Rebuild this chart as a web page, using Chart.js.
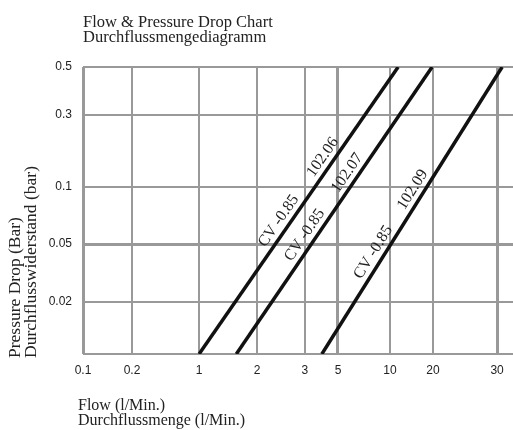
<!DOCTYPE html>
<html>
<head>
<meta charset="utf-8">
<script src="https://cdn.jsdelivr.net/npm/chart.js@4.4.1/dist/chart.umd.min.js"></script>
<style>body{margin:0;background:#fff}</style>
</head>
<body>
<canvas id="chart" width="513" height="430"></canvas>
<script>
// values
const flowTicks = [0.1, 0.2, 1, 2, 3, 5, 10, 20, 30];
const flowTickLabels = ['0.1', '0.2', '1', '2', '3', '5', '10', '20', '30'];
const pressureTicks = [0.01, 0.02, 0.05, 0.1, 0.3, 0.5];
const pressureTickLabels = ['', '0.02', '0.05', '0.1', '0.3', '0.5'];

const models = ['102.06', '102.07', '102.09'];
const cvText = 'CV -0.85';
// each line: flow at bottom (0.01 bar) and at top (0.5 bar)
const flow10206 = [1, 11.4];
const flow10207 = [1.56, 19.7];
const flow10209 = [3.9, 31.5];
const pressureEnds = [0.01, 0.5];

const titleLines = ['Flow & Pressure Drop Chart', 'Durchflussmengediagramm'];
const xTitleLines = ['Flow (l/Min.)', 'Durchflussmenge (l/Min.)'];
const yTitleLines = ['Pressure Drop (Bar)', 'Durchflusswiderstand (bar)'];

// the printed chart spaces its grid by hand, so the axis is split in segments
class SegmentScale extends Chart.LinearScale {
  toDecimal(v) {
    const vals = this.options.stopValues, st = this.options.stops;
    let i = 0;
    while (i < vals.length - 2 && v > vals[i + 1]) i++;
    const f = Math.log(v / vals[i]) / Math.log(vals[i + 1] / vals[i]);
    return st[i] + f * (st[i + 1] - st[i]);
  }
  getPixelForValue(v) {
    return this.getPixelForDecimal(this.toDecimal(v));
  }
  getValueForPixel(p) {
    const d = this.getDecimalForPixel(p);
    const vals = this.options.stopValues, st = this.options.stops;
    let i = 0;
    while (i < st.length - 2 && d > st[i + 1]) i++;
    const f = (d - st[i]) / (st[i + 1] - st[i]);
    return vals[i] * Math.pow(vals[i + 1] / vals[i], f);
  }
}
SegmentScale.id = 'segment';
SegmentScale.defaults = {};
Chart.register(SegmentScale);

const GRID = '#999999';
const tickFont = {family: '"Liberation Sans", Arial, sans-serif', size: 12};

const lineData = (flows) => flows.map((f, i) => ({x: f, y: pressureEnds[i]}));

const labelPlugin = {
  id: 'labels',
  afterDraw(chart) {
    const ctx = chart.ctx;
    ctx.save();
    ctx.fillStyle = '#222';
    ctx.textAlign = 'left';
    ctx.textBaseline = 'alphabetic';
    ctx.font = '16.5px "Liberation Serif", serif';
    ctx.fillText(titleLines[0], 83, 27);
    ctx.fillText(titleLines[1], 83, 42);
    ctx.font = '16px "Liberation Serif", serif';
    ctx.fillText(xTitleLines[0], 78, 410);
    ctx.fillText(xTitleLines[1], 78, 425);
    ctx.font = '17.5px "Liberation Serif", serif';
    [[20, yTitleLines[0]], [36, yTitleLines[1]]].forEach(([x, t]) => {
      ctx.save();
      ctx.translate(x, 358);
      ctx.rotate(-Math.PI / 2);
      ctx.fillText(t, 0, 0);
      ctx.restore();
    });

    const cvAt = [0.443, 0.394, 0.335];
    const modelAt = [0.665, 0.61, 0.553];
    ctx.font = '16px "Liberation Serif", serif';
    ctx.textAlign = 'center';
    ctx.textBaseline = 'middle';
    chart.data.datasets.forEach((ds, i) => {
      const pts = chart.getDatasetMeta(i).data;
      const p0 = pts[0], p1 = pts[1];
      const dx = p1.x - p0.x, dy = p1.y - p0.y;
      const len = Math.hypot(dx, dy);
      const nx = dy / len, ny = -dx / len;
      const ang = Math.atan2(dy, dx);
      [[cvAt[i], cvText], [modelAt[i], models[i]]].forEach(([t, txt]) => {
        ctx.save();
        ctx.translate(p0.x + dx * t + nx * 10.5, p0.y + dy * t + ny * 10.5);
        ctx.rotate(ang);
        ctx.fillText(txt, 0, 0);
        ctx.restore();
      });
    });
    ctx.restore();
  }
};

const lineStyle = {borderColor: '#111', borderWidth: 3.5, pointRadius: 0, tension: 0, fill: false};

new Chart(document.getElementById('chart'), {
  type: 'line',
  data: {
    datasets: [
      {label: models[0], data: lineData(flow10206), ...lineStyle},
      {label: models[1], data: lineData(flow10207), ...lineStyle},
      {label: models[2], data: lineData(flow10209), ...lineStyle}
    ]
  },
  options: {
    responsive: false,
    animation: false,
    layout: {padding: {top: 67, left: 0, right: 0, bottom: 0}},
    plugins: {legend: {display: false}, tooltip: {enabled: false}},
    scales: {
      x: {
        type: 'segment',
        min: 0.1,
        max: 35,
        stopValues: [0.1, 0.2, 1, 2, 3, 5, 10, 20, 30, 35],
        stops: [0, 0.114, 0.270, 0.405, 0.516, 0.593, 0.714, 0.814, 0.963, 1],
        border: {display: false},
        grid: {
          color: GRID,
          drawTicks: false,
          lineWidth: c => ([0.1, 5, 30].includes(c.tick && c.tick.value) ? 3 : 2)
        },
        ticks: {
          autoSkip: false,
          maxRotation: 0,
          padding: 9,
          color: '#222',
          font: tickFont,
          callback: (v, i) => flowTickLabels[i]
        },
        afterBuildTicks: s => { s.ticks = flowTicks.map(v => ({value: v})); },
        afterFit: s => { s.height = 76; }
      },
      y: {
        type: 'segment',
        min: 0.01,
        max: 0.5,
        stopValues: [0.01, 0.02, 0.05, 0.1, 0.3, 0.5],
        stops: [0, 0.181, 0.383, 0.582, 0.833, 1],
        border: {display: false},
        grid: {
          color: GRID,
          drawTicks: false,
          lineWidth: c => ((c.tick && c.tick.value) === 0.05 ? 3 : 2)
        },
        ticks: {
          autoSkip: false,
          padding: 11,
          color: '#222',
          font: tickFont,
          callback: (v, i) => pressureTickLabels[i]
        },
        afterBuildTicks: s => { s.ticks = pressureTicks.map(v => ({value: v})); },
        afterFit: s => { s.width = 83; }
      }
    }
  },
  plugins: [labelPlugin]
});
</script>
</body>
</html>
